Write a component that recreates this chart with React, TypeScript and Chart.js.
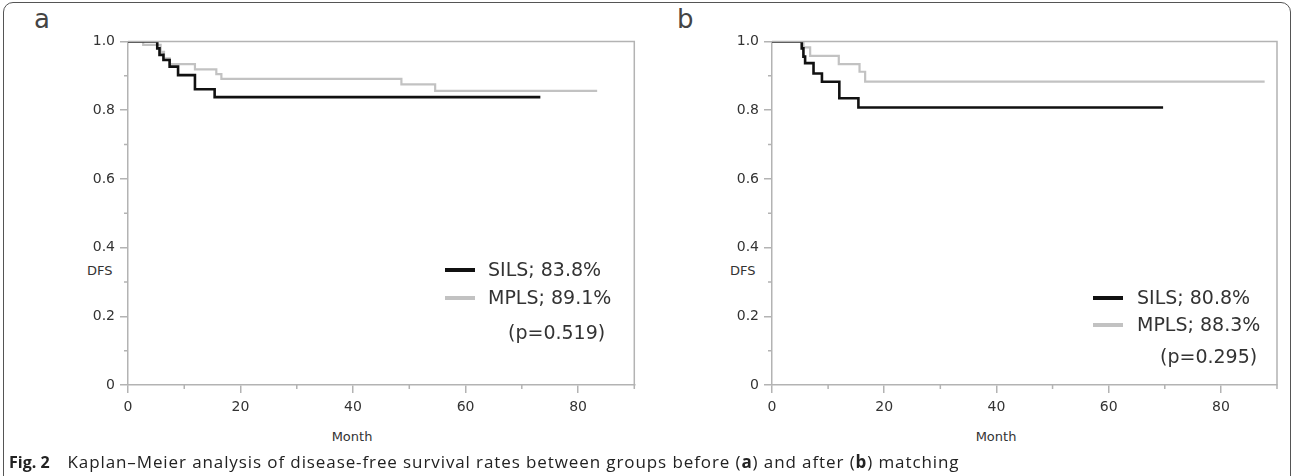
import React, { useEffect, useRef } from "react";
import { Chart, registerables } from "chart.js";

Chart.register(...registerables);

// ---- data ----
const aSilsMonths = [0, 5.2, 5.6, 6.3, 7.4, 8.9, 11.9, 15.4, 73.3];
const aSilsDfs = [1, 0.98, 0.961, 0.946, 0.927, 0.902, 0.861, 0.838, 0.838];
const aMplsMonths = [0, 2.7, 5.8, 6.4, 7.4, 11.9, 15.7, 16.6, 48.6, 54.6, 83.4];
const aMplsDfs = [1, 0.99, 0.97, 0.951, 0.934, 0.919, 0.905, 0.891, 0.875, 0.856, 0.856];

const bSilsMonths = [0, 5.3, 5.6, 5.9, 7.4, 8.9, 12.0, 15.4, 69.7];
const bSilsDfs = [1, 0.98, 0.956, 0.937, 0.907, 0.883, 0.835, 0.808, 0.808];
const bMplsMonths = [0, 5.6, 6.8, 11.9, 15.6, 16.6, 87.8];
const bMplsDfs = [1, 0.983, 0.958, 0.934, 0.912, 0.883, 0.883];

const xTickValues = [0, 20, 40, 60, 80];
const xMinorTicks = [10, 30, 50, 70, 90];
const yTickValues = [0, 0.2, 0.4, 0.6, 0.8, 1.0];
const yTickLabels = ["0", "0.2", "0.4", "0.6", "0.8", "1.0"];
const yMinorTicks = [0.1, 0.3, 0.5, 0.7, 0.9];

const seriesNames = ["SILS", "MPLS"];
const aRates = ["83.8%", "89.1%"];
const bRates = ["80.8%", "88.3%"];
const aP = "(p=0.519)";
const bP = "(p=0.295)";
const xTitle = "Month";
const yTitle = "DFS";

const AXIS_GRAY = "#b3b3b3";
const BLACK = "#111111";
const LIGHT = "#c2c2c2";
const TEXT = "#333333";

const toPoints = (xs: number[], ys: number[]) => xs.map((x, i) => ({ x, y: ys[i] }));

const framePlugin = {
  id: "kmFrame",
  afterDraw(chart: any) {
    const { ctx, chartArea, scales } = chart;
    ctx.save();
    ctx.strokeStyle = AXIS_GRAY;
    ctx.lineWidth = 1.5;
    ctx.beginPath();
    ctx.moveTo(chartArea.left, chartArea.top);
    ctx.lineTo(chartArea.right, chartArea.top);
    ctx.lineTo(chartArea.right, chartArea.bottom);
    ctx.stroke();
    ctx.beginPath();
    xMinorTicks.forEach((v) => {
      const px = scales.x.getPixelForValue(v);
      ctx.moveTo(px, chartArea.bottom);
      ctx.lineTo(px, chartArea.bottom + 4);
    });
    yMinorTicks.forEach((v) => {
      const py = scales.y.getPixelForValue(v);
      ctx.moveTo(chartArea.left - 4, py);
      ctx.lineTo(chartArea.left, py);
    });
    ctx.stroke();
    ctx.restore();
  },
};

type PanelProps = {
  left: number;
  sils: { x: number; y: number }[];
  mpls: { x: number; y: number }[];
  padRight: number;
};

function KMChart({ left, sils, mpls, padRight }: PanelProps) {
  const ref = useRef<HTMLCanvasElement>(null);
  useEffect(() => {
    if (!ref.current) return;
    const chart = new Chart(ref.current, {
      type: "line",
      data: {
        datasets: [
          {
            label: seriesNames[0],
            data: sils,
            borderColor: BLACK,
            borderWidth: 2.6,
            stepped: "before",
            pointRadius: 0,
            fill: false,
          },
          {
            label: seriesNames[1],
            data: mpls,
            borderColor: LIGHT,
            borderWidth: 2.2,
            stepped: "before",
            pointRadius: 0,
            fill: false,
          },
        ],
      },
      options: {
        animation: false,
        responsive: false,
        parsing: false as any,
        layout: { padding: { left: 0, top: 21.5, right: padRight, bottom: 15 } },
        plugins: { legend: { display: false }, tooltip: { enabled: false } },
        scales: {
          x: {
            type: "linear",
            min: 0,
            max: 90,
            afterBuildTicks: (s: any) => {
              s.ticks = xTickValues.map((v) => ({ value: v }));
            },
            afterFit: (s: any) => {
              s.height = 60;
            },
            grid: {
              drawOnChartArea: false,
              drawTicks: true,
              tickLength: 8,
              color: AXIS_GRAY,
              lineWidth: 1.5,
            },
            border: { color: AXIS_GRAY, width: 1.5 },
            ticks: {
              padding: 6,
              color: TEXT,
              font: { family: "DejaVu Sans", size: 14 },
              maxRotation: 0,
              autoSkip: false,
            },
          },
          y: {
            type: "linear",
            min: 0,
            max: 1,
            afterBuildTicks: (s: any) => {
              s.ticks = yTickValues.map((v) => ({ value: v }));
            },
            afterFit: (s: any) => {
              s.width = 68;
            },
            grid: {
              drawOnChartArea: false,
              drawTicks: true,
              tickLength: 8,
              color: AXIS_GRAY,
              lineWidth: 1.5,
            },
            border: { color: AXIS_GRAY, width: 1.5 },
            ticks: {
              padding: 5,
              color: TEXT,
              font: { family: "DejaVu Sans", size: 14 },
              autoSkip: false,
              callback: (v: any) => {
                const i = yTickValues.findIndex((t) => Math.abs(t - Number(v)) < 1e-9);
                return i >= 0 ? yTickLabels[i] : "";
              },
            },
          },
        },
      },
      plugins: [framePlugin],
    });
    return () => chart.destroy();
  }, []);
  return (
    <canvas
      ref={ref}
      width={600}
      height={440}
      style={{ position: "absolute", left, top: 20, width: 600, height: 440 }}
    />
  );
}

const txt: React.CSSProperties = {
  position: "absolute",
  fontFamily: "'DejaVu Sans', sans-serif",
  color: TEXT,
  whiteSpace: "nowrap",
  lineHeight: 1,
};

function Legend({ swX, textX, y1, y2, yP, pX, rates, p }: any) {
  const fs = 19;
  return (
    <>
      <div style={{ position: "absolute", left: swX, top: y1 - 2, width: 30, height: 4, background: BLACK }} />
      <div style={{ ...txt, left: textX, top: y1 - fs / 2 - 1, fontSize: fs }}>
        {seriesNames[0]}; {rates[0]}
      </div>
      <div style={{ position: "absolute", left: swX, top: y2 - 2, width: 30, height: 4, background: LIGHT }} />
      <div style={{ ...txt, left: textX, top: y2 - fs / 2 - 1, fontSize: fs }}>
        {seriesNames[1]}; {rates[1]}
      </div>
      <div style={{ ...txt, left: pX, top: yP - fs / 2 - 1, fontSize: fs }}>{p}</div>
    </>
  );
}

function Centered({ cx, top, size, children }: any) {
  return (
    <div
      style={{
        ...txt,
        left: cx - 100,
        width: 200,
        top,
        fontSize: size,
        textAlign: "center",
      }}
    >
      {children}
    </div>
  );
}

export default function App() {
  return (
    <div
      style={{
        position: "absolute",
        left: 0,
        top: 0,
        width: 1295,
        height: 476,
        overflow: "hidden",
        background: "#fff",
      }}
    >
      <div
        style={{
          position: "absolute",
          left: 3,
          top: 2,
          width: 1286,
          height: 540,
          border: "1px solid #555",
          borderRadius: 10,
        }}
      />
      <div style={{ ...txt, left: 34, top: 6, fontSize: 26, color: "#444" }}>a</div>
      <div style={{ ...txt, left: 677, top: 6, fontSize: 26, color: "#444" }}>b</div>
      <div style={{ ...txt, left: 87, top: 264, fontSize: 13 }}>{yTitle}</div>
      <div style={{ ...txt, left: 730, top: 264, fontSize: 13 }}>{yTitle}</div>
      <Centered cx={352} top={430} size={13}>{xTitle}</Centered>
      <Centered cx={996} top={430} size={13}>{xTitle}</Centered>

      <KMChart left={60} sils={toPoints(aSilsMonths, aSilsDfs)} mpls={toPoints(aMplsMonths, aMplsDfs)} padRight={25.7} />
      <KMChart left={704} sils={toPoints(bSilsMonths, bSilsDfs)} mpls={toPoints(bMplsMonths, bMplsDfs)} padRight={27} />

      <Legend swX={445} textX={488} y1={270} y2={298} yP={333} pX={508} rates={aRates} p={aP} />
      <Legend swX={1093} textX={1137} y1={298} y2={325} yP={357} pX={1160} rates={bRates} p={bP} />

      <div
        style={{
          position: "absolute",
          left: 9,
          top: 451,
          fontFamily: "'Open Sans', sans-serif",
          fontSize: 17,
          color: "#222",
          whiteSpace: "nowrap",
          lineHeight: "22px",
        }}
      >
        <b style={{ fontSize: 16 }}>Fig. 2</b>
        <span style={{ letterSpacing: 0.9 }}>
          {"\u2003"}Kaplan–Meier analysis of disease-free survival rates between groups before (<b>a</b>) and after (
          <b>b</b>) matching
        </span>
      </div>
    </div>
  );
}
